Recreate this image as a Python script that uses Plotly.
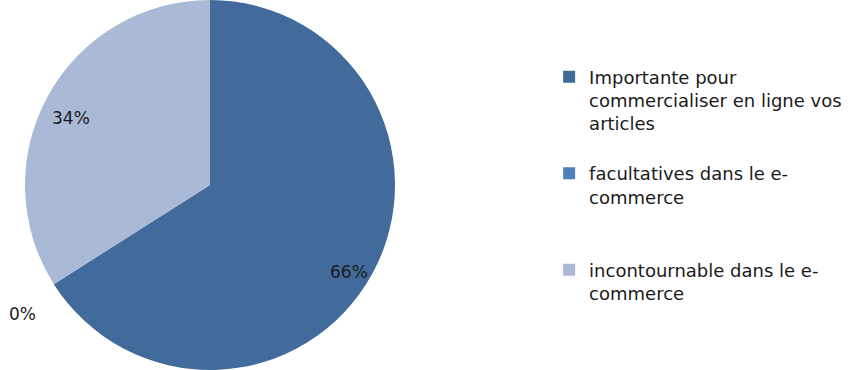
import math
import plotly.graph_objects as go

labels = [
    "Importante pour<br>commercialiser en ligne vos<br>articles<br> ",
    "facultatives dans le e-<br>commerce<br> <br> ",
    "incontournable dans le e-<br>commerce",
]
values = [66, 0, 34]
percent_text = ["66%", "0%", "34%"]
colors = ["#426A9B", "#4F7FBD", "#AAB9D6"]

W, H = 854, 370
cx, cy = 210, 185
r = 185
label_cy = 195
FONT = "DejaVu Sans"

fig = go.Figure(
    go.Pie(
        labels=labels,
        values=values,
        sort=False,
        direction="clockwise",
        rotation=0,
        marker=dict(colors=colors, line=dict(width=0)),
        textinfo="none",
        showlegend=True,
        domain=dict(x=[(cx - r) / W, (cx + r) / W], y=[0, 1]),
        hoverinfo="label+percent",
    )
)

# percentage labels placed along each slice's mid-angle (Excel "best fit" look)
total = sum(values)
start = 0.0
for v, t in zip(values, percent_text):
    sweep = 360.0 * v / total
    mid = math.radians(start + sweep / 2)
    frac = 0.86 if v > 0 else 1.2
    px = cx + frac * r * math.sin(mid)
    py = label_cy - frac * r * math.cos(mid)
    fig.add_annotation(
        x=px / W, y=1 - py / H, xref="paper", yref="paper",
        text=t, showarrow=False,
        font=dict(family=FONT, size=17, color="#1a1a1a"),
        xanchor="center", yanchor="middle",
    )
    start += sweep

fig.update_layout(
    width=W,
    height=H,
    margin=dict(l=0, r=0, t=0, b=0),
    paper_bgcolor="white",
    plot_bgcolor="white",
    font=dict(family=FONT, size=18, color="#1a1a1a"),
    legend=dict(
        x=0.643,
        y=0.842,
        xanchor="left",
        yanchor="top",
        valign="top",
        font=dict(family=FONT, size=18, color="#1a1a1a"),
        bgcolor="rgba(0,0,0,0)",
    ),
)

fig.write_html("out.html")
